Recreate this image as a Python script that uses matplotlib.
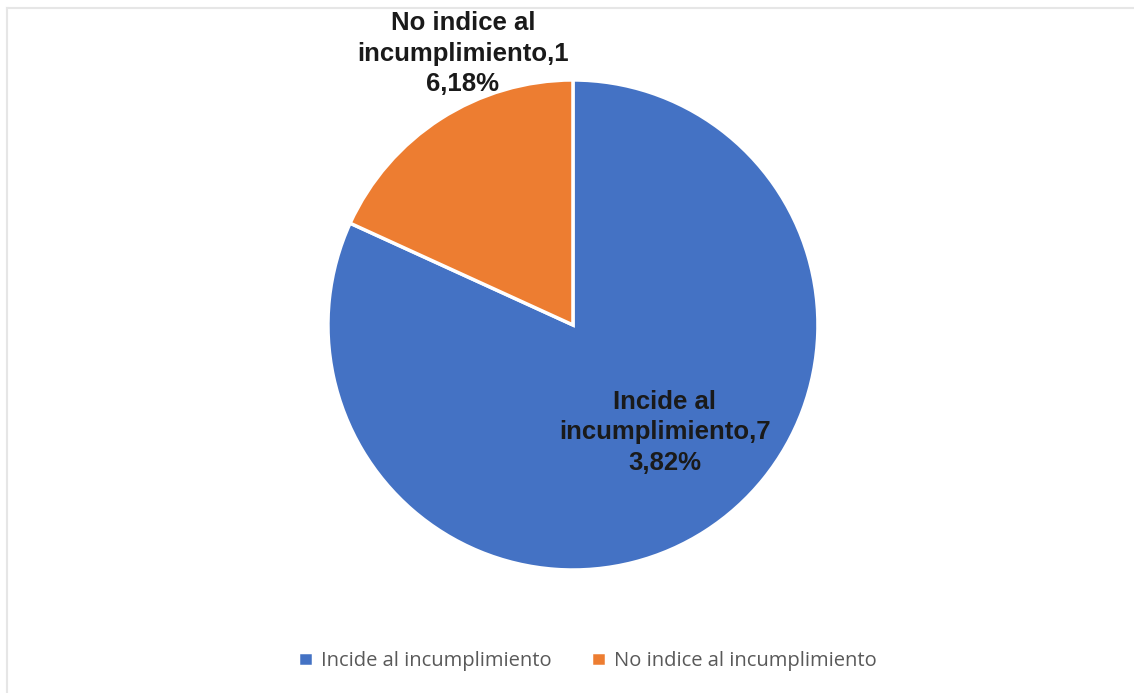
import matplotlib.pyplot as plt
from matplotlib.lines import Line2D

categories = ['Incide al incumplimiento', 'No indice al incumplimiento']
values = [81.82, 18.18]
slice_labels = ['Incide al\nincumplimiento,7\n3,82%', 'No indice al\nincumplimiento,1\n6,18%']
colors = ['#4472C4', '#ED7D31']

fig = plt.figure(figsize=(11.34, 6.93), dpi=100)
fig.patch.set_facecolor('white')

# faint chart-area frame (only left and top edges are visible)
fig.add_artist(Line2D([0.006, 0.006], [0.0, 0.989], color='#e6e6e6', lw=1.5, transform=fig.transFigure))
fig.add_artist(Line2D([0.006, 1.0], [0.989, 0.989], color='#e6e6e6', lw=1.5, transform=fig.transFigure))

ax = fig.add_axes([0.2892, 0.1775, 0.4321, 0.7071])
wedges, _ = ax.pie(values, colors=colors, startangle=90, counterclock=False,
                   radius=1.0, wedgeprops=dict(edgecolor='white', linewidth=2.5))
ax.set_xlim(-1, 1)
ax.set_ylim(-1, 1)
ax.set_aspect('auto')

# data labels
lbl_font = ['Liberation Sans', 'DejaVu Sans']
ax.text(0.375, -0.438, slice_labels[0], ha='center', va='center', fontsize=18.5,
        fontweight='bold', family=lbl_font, color='#1a1a1a', linespacing=1.33)
ax.text(-0.449, 1.108, slice_labels[1], ha='center', va='center', fontsize=18.5,
        fontweight='bold', family=lbl_font, color='#1a1a1a', linespacing=1.33,
        clip_on=False)

leg = fig.legend(wedges, categories, loc='center', bbox_to_anchor=(0.518, 0.046),
                 ncol=2, frameon=False, handlelength=0.7, handleheight=0.7,
                 handletextpad=0.4, columnspacing=2.0,
                 prop={'family': 'Open Sans', 'size': 14.5})
for t in leg.get_texts():
    t.set_color('#595959')

fig.savefig('out.png', dpi=100)
